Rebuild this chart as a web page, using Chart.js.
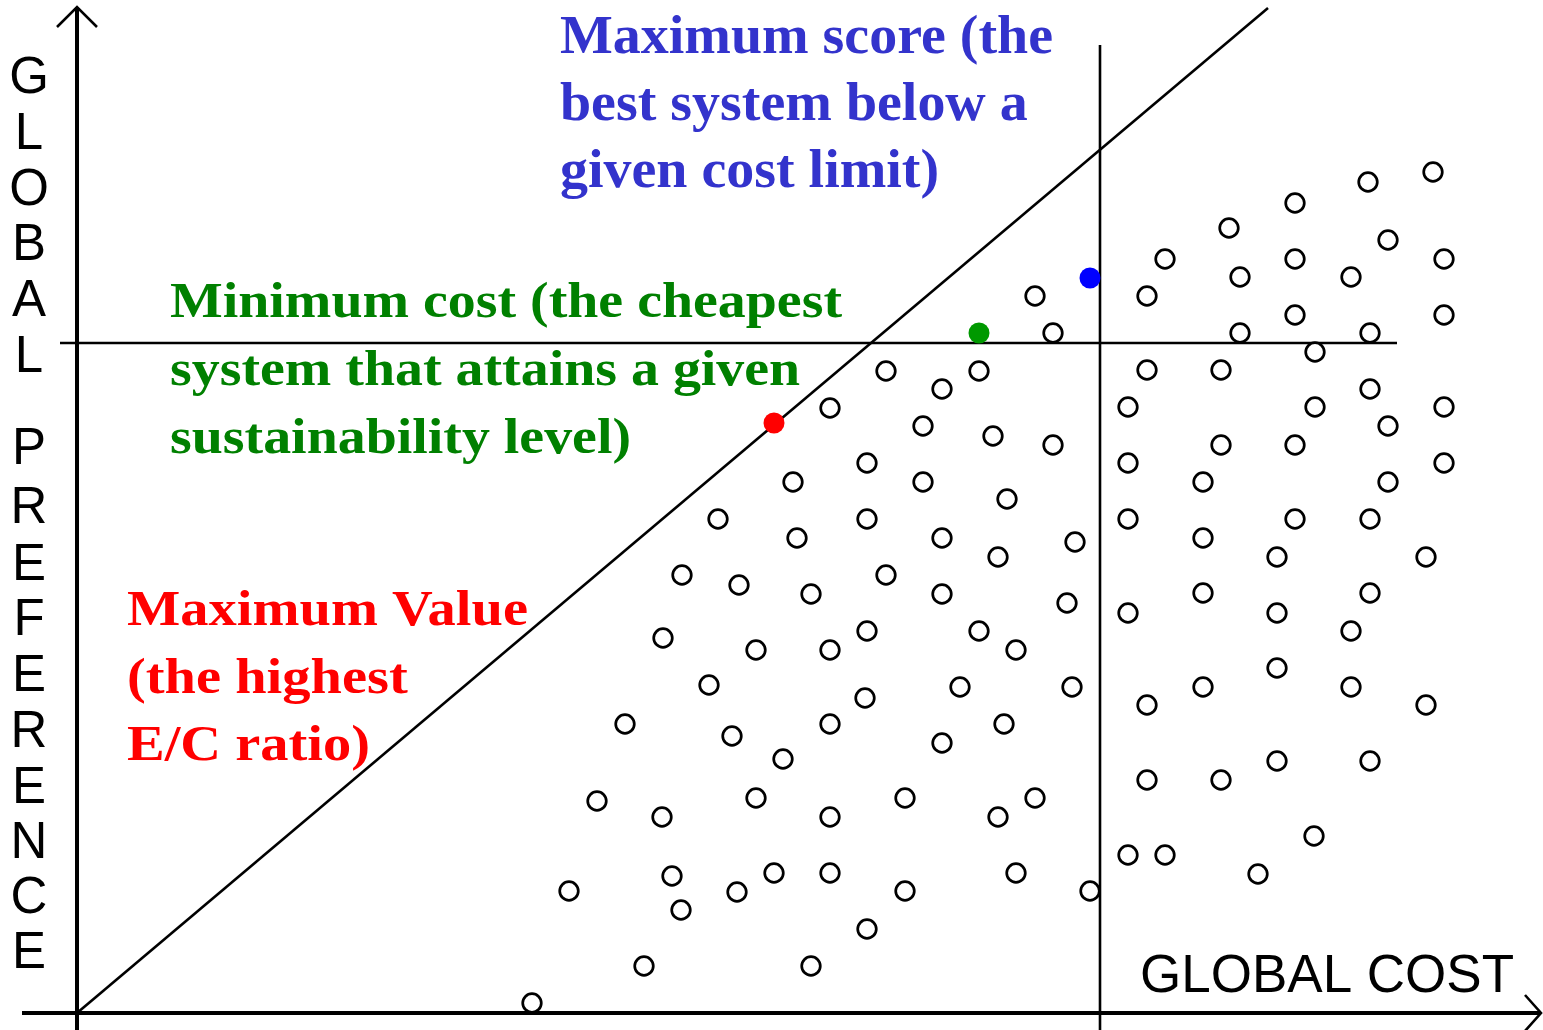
<!DOCTYPE html>
<html>
<head>
<meta charset="utf-8">
<title>Global cost vs global preference</title>
<script src="https://cdn.jsdelivr.net/npm/chart.js@4/dist/chart.umd.min.js"></script>
<style>
  html, body { margin: 0; padding: 0; background: #fff; }
  #wrap { width: 1543px; height: 1030px; position: relative; }
</style>
</head>
<body>
<div id="wrap"><canvas id="chart-cost"></canvas></div>
<script>
// candidate systems (global cost, global preference), 1 unit = 10 px of the picture
var systemCost = [
  135.6, 129.1, 121.8, 115.2, 131.1, 108.8, 121.8, 136.7, 116.3, 127.4,
  107.0, 121.8, 136.7, 116.3, 129.3, 123.8, 107.0, 114.4, 129.3, 105.1,
  123.8, 136.7, 131.1, 114.4, 121.8, 105.1, 136.7, 112.6, 131.1, 105.1,
  121.8, 129.3, 112.6, 120.0, 134.9, 112.6, 129.3, 105.1, 120.0, 127.4,
  120.0, 112.6, 127.4, 107.0, 134.9, 120.0, 129.3, 107.0, 114.4, 123.7,
  105.1, 108.8, 118.1,
  95.8, 97.6, 80.9, 90.2, 86.5, 75.3, 84.6, 91.6, 97.6, 79.0,
  71.6, 84.6, 93.0, 64.1, 79.0, 72.0, 86.5, 99.8, 92.1, 60.5,
  80.9, 66.2, 73.4, 86.5, 99.0, 58.6, 79.0, 90.2, 67.9, 75.3,
  93.9, 63.2, 88.3, 99.5, 78.8, 54.8, 75.3, 92.7, 65.5, 86.5,
  70.6, 67.9, 82.8, 95.8, 52.0, 58.5, 75.3, 92.1, 69.7, 75.3,
  93.9, 59.5, 49.2, 66.0, 82.8, 101.3, 60.4, 79.0, 56.7, 73.4,
  45.5
];
var systemPreference = [
  84.1, 83.1, 81.0, 78.5, 77.3, 75.4, 75.4, 75.4, 73.6, 73.6,
  71.7, 69.8, 69.8, 68.0, 68.0, 66.1, 64.3, 64.3, 62.4, 60.6,
  60.6, 60.6, 58.7, 56.8, 56.8, 55.0, 55.0, 53.1, 53.1, 49.4,
  49.4, 49.4, 47.5, 45.6, 45.6, 42.0, 42.0, 40.0, 40.0, 38.2,
  34.5, 32.6, 32.6, 30.8, 30.8, 25.2, 25.2, 23.3, 23.3, 17.7,
  15.8, 15.8, 13.9,
  71.7, 68.0, 64.2, 64.2, 62.4, 60.5, 58.7, 57.7, 56.8, 55.0,
  53.1, 53.1, 51.4, 49.4, 49.4, 47.5, 47.5, 47.1, 45.6, 43.8,
  43.8, 42.8, 41.9, 41.9, 41.0, 37.5, 38.2, 38.2, 36.3, 36.3,
  36.3, 32.8, 32.6, 32.6, 31.5, 28.9, 28.9, 28.9, 27.7, 27.0,
  25.4, 21.5, 21.5, 21.5, 21.2, 19.6, 19.6, 19.6, 14.0, 14.0,
  14.0, 13.7, 12.2, 12.1, 12.2, 12.2, 10.3, 8.4, 4.7, 4.7,
  1.0
];

// the three highlighted systems
var bestNames = ["Maximum Value", "Minimum cost", "Maximum score"];
var bestCost = [69.7, 90.2, 101.3];
var bestPreference = [59.0, 68.0, 73.5];
var bestColors = ["#ff0000", "#009900", "#0000ff"];

// reference lines
var ratioLineX = [0, 119.1];
var ratioLineY = [0, 100.5];
var levelLineX = [-1.7, 132.0];
var levelValue = 67.0;
var limitValue = 102.3;
var limitLineY = [-1.7, 96.8];

// axes with arrow heads
var xAxisX = [-5.5, 146.4];
var yAxisY = [-1.7, 100.6];
var xArrowX = [144.8, 146.4, 144.8];
var xArrowY = [1.8, 0, -1.8];
var yArrowX = [-2.0, 0, 2.0];
var yArrowY = [98.6, 100.6, 98.6];

function pts(xs, ys) {
  return xs.map(function (x, i) { return { x: x, y: ys[i] }; });
}

function lineSet(data, width) {
  return {
    data: data,
    showLine: true,
    borderColor: "#000",
    borderWidth: width,
    pointRadius: 0,
    fill: false,
    clip: false,
    order: 2
  };
}

// annotation blocks (anchor in data units, width of first line in data units)
var notes = [
  { lines: ["Maximum score (the", "best system below a", "given cost limit)"],
    x: 48.3, y: 96.0, step: 6.7, width: 49.3, size: 55, color: "#3333cc" },
  { lines: ["Minimum cost (the cheapest", "system that attains a given", "sustainability level)"],
    x: 9.3, y: 69.6, step: 6.8, width: 67.2, size: 50, color: "#008000" },
  { lines: ["Maximum Value", "(the highest", "E/C ratio)"],
    x: 5.0, y: 38.8, step: 6.75, width: 40.1, size: 50, color: "#ff0000" }
];

var xTitle = "GLOBAL COST";
var yTitle = ["G", "L", "O", "B", "A", "L", "P", "R", "E", "F", "E", "R", "E", "N", "C", "E"];
var yTitleAt = [92.0, 86.4, 80.8, 75.3, 69.7, 64.1, 54.9, 49.0, 43.3, 37.8, 32.2, 26.6, 21.0, 15.5, 10.0, 4.5];

var textPlugin = {
  id: "notes",
  afterDatasetsDraw: function (chart) {
    var ctx = chart.ctx;
    var sx = chart.scales.x, sy = chart.scales.y;
    var unit = sx.getPixelForValue(1) - sx.getPixelForValue(0);
    ctx.save();
    ctx.textBaseline = "alphabetic";
    ctx.textAlign = "left";
    notes.forEach(function (n) {
      ctx.font = "bold " + n.size + "px 'Liberation Serif', 'Times New Roman', serif";
      ctx.fillStyle = n.color;
      var k = (n.width * unit) / ctx.measureText(n.lines[0]).width;
      var px = sx.getPixelForValue(n.x);
      n.lines.forEach(function (t, i) {
        var py = sy.getPixelForValue(n.y - i * n.step);
        ctx.save();
        ctx.translate(px, py);
        ctx.scale(k, 1);
        ctx.fillText(t, 0, 0);
        ctx.restore();
      });
    });

    ctx.fillStyle = "#000";
    ctx.font = "53px 'Liberation Sans', Arial, sans-serif";
    ctx.fillText(xTitle, sx.getPixelForValue(106.3), sy.getPixelForValue(2.1));

    ctx.font = "51px 'Liberation Sans', Arial, sans-serif";
    ctx.textAlign = "center";
    yTitle.forEach(function (ch, i) {
      ctx.fillText(ch, sx.getPixelForValue(-4.8), sy.getPixelForValue(yTitleAt[i]));
    });
    ctx.restore();
  }
};

var c1 = document.querySelector("#chart-cost");

var costChart = new Chart(c1, {
  type: "scatter",
  data: {
    datasets: [
      {
        label: "highlighted",
        data: pts(bestCost, bestPreference),
        pointRadius: 10.5,
        pointBackgroundColor: bestColors,
        pointBorderColor: bestColors,
        pointBorderWidth: 0,
        clip: false,
        order: 0
      },
      {
        label: "systems",
        data: pts(systemCost, systemPreference),
        pointRadius: 9.3,
        pointBackgroundColor: "#fff",
        pointBorderColor: "#000",
        pointBorderWidth: 2.7,
        clip: false,
        order: 1
      },
      lineSet(pts(ratioLineX, ratioLineY), 2.6),
      lineSet(pts(levelLineX, [levelValue, levelValue]), 2.6),
      lineSet(pts([limitValue, limitValue], limitLineY), 2.6),
      lineSet(pts(xAxisX, [0, 0]), 4),
      lineSet(pts([0, 0], yAxisY), 4),
      lineSet(pts(xArrowX, xArrowY), 2.6),
      lineSet(pts(yArrowX, yArrowY), 2.6)
    ]
  },
  options: {
    responsive: true,
    maintainAspectRatio: false,
    animation: false,
    events: [],
    layout: { autoPadding: false, padding: 0 },
    plugins: { legend: { display: false }, tooltip: { enabled: false } },
    scales: {
      x: { type: "linear", display: false, min: -7.7, max: 146.6 },
      y: { type: "linear", display: false, min: -1.7, max: 101.3 }
    }
  },
  plugins: [textPlugin]
});
</script>
</body>
</html>
